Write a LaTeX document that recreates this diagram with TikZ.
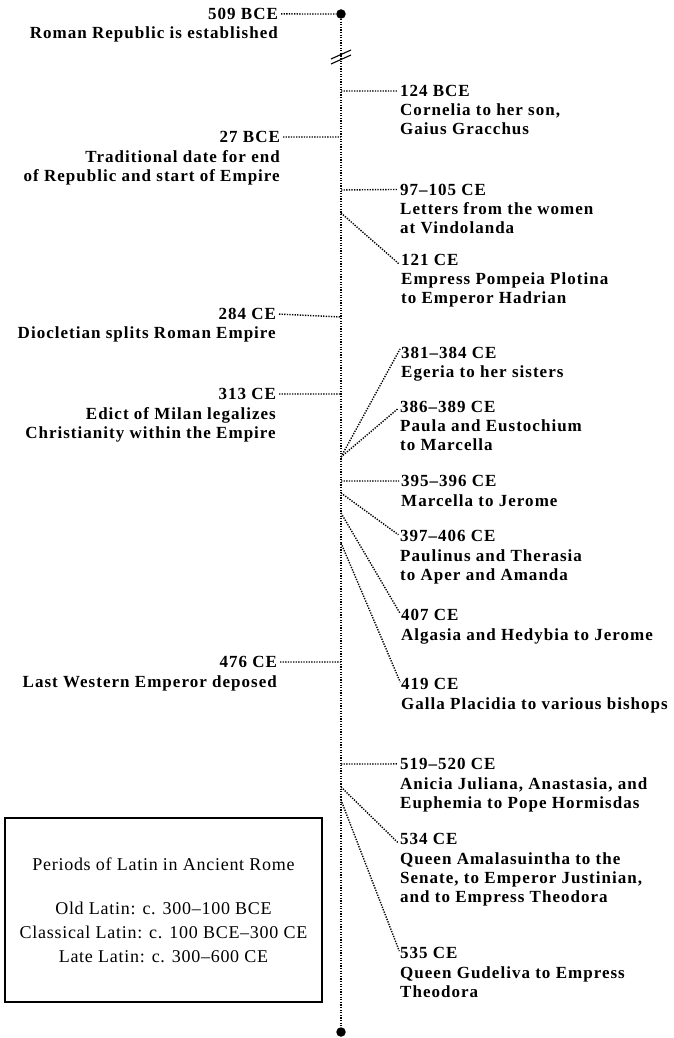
\documentclass[tikz,border=0pt]{standalone}
\usepackage{fontspec}
\setmainfont{Liberation Serif}[LetterSpace=6]
\newfontfamily\boxfont{Liberation Serif}[LetterSpace=4]
\usetikzlibrary{positioning}

\begin{document}
\begin{tikzpicture}[x=1pt, y=-1pt,
    datel/.style={inner sep=0pt, outer sep=0pt, anchor=base east, font=\fontsize{17}{19}\selectfont\bfseries},
    dater/.style={inner sep=0pt, outer sep=0pt, anchor=base west, font=\fontsize{17}{19}\selectfont\bfseries},
    descl/.style={inner sep=0pt, align=right, font=\fontsize{17}{19}\selectfont\bfseries},
    descr/.style={inner sep=0pt, align=left, font=\fontsize{17}{19}\selectfont\bfseries},
    linkline/.style={line width=1.4pt, dash pattern=on 1.3pt off 1.3pt},
    linkl/.style={linkline, shorten <=3pt},
    linkr/.style={linkline, shorten >=2pt},
    axisdot/.style={circle, fill=black, inner sep=0pt, minimum size=9.5pt}]
    \useasboundingbox (0,0) rectangle (673,1038);

    % the axis
    \node[axisdot] (top) at (341,14) {};
    \node[axisdot] (bottom) at (341,1032) {};
    \draw[linkline] (top) -- (bottom);
    \draw[line width=1.1pt] (331,59) -- (351,50) (331,64) -- (351,55);

    \coordinate (a124) at (341,91);
    \coordinate (a27) at (341,137);
    \coordinate (a97) at (341,190);
    \coordinate (a121) at (341,213);
    \coordinate (a284) at (341,317);
    \coordinate (a313) at (341,394);
    \coordinate (a381) at (341,457);
    \coordinate (a395) at (341,481);
    \coordinate (a397) at (341,493);
    \coordinate (a407) at (341,513);
    \coordinate (a419) at (341,543);
    \coordinate (a476) at (341,662);
    \coordinate (a519) at (341,764);
    \coordinate (a534) at (341,787);
    \coordinate (a535) at (341,800);

    % events on the left
    \node[datel] (d509) at (278,19.5) {509 BCE};
    \node[descl, below left=7.5pt and 0pt of d509.base east] (t509) {Roman Republic is established};
    \node[datel] (d27) at (280,142.5) {27 BCE};
    \node[descl, below left=7.5pt and 0pt of d27.base east] (t27) {Traditional date for end\\of Republic and start of Empire};
    \node[datel] (d284) at (276,319.5) {284 CE};
    \node[descl, below left=7.5pt and 0pt of d284.base east] (t284) {Diocletian splits Roman Empire};
    \node[datel] (d313) at (276,399.5) {313 CE};
    \node[descl, below left=7.5pt and 0pt of d313.base east] (t313) {Edict of Milan legalizes\\Christianity within the Empire};
    \node[datel] (d476) at (277,667.5) {476 CE};
    \node[descl, below left=7.5pt and 0pt of d476.base east] (t476) {Last Western Emperor deposed};

    \draw[linkl] (d509.east) -- (top);
    \draw[linkl] (d27.east) -- (a27);
    \draw[linkl] (d284.east) -- (a284);
    \draw[linkl] (d313.east) -- (a313);
    \draw[linkl] (d476.east) -- (a476);

    % letters on the right
    \node[dater] (d124) at (400,96.5) {124 BCE};
    \node[descr, below right=7.5pt and 0pt of d124.base west] (t124) {Cornelia to her son,\\Gaius Gracchus};
    \node[dater] (d97) at (400,195) {97--105 CE};
    \node[descr, below right=7.5pt and 0pt of d97.base west] (t97) {Letters from the women\\at Vindolanda};
    \node[dater] (d121) at (401,265.5) {121 CE};
    \node[descr, below right=7.5pt and 0pt of d121.base west] (t121) {Empress Pompeia Plotina\\to Emperor Hadrian};
    \node[dater] (d381) at (401,358.5) {381--384 CE};
    \node[descr, below right=7.5pt and 0pt of d381.base west] (t381) {Egeria to her sisters};
    \node[dater] (d386) at (400,412.5) {386--389 CE};
    \node[descr, below right=7.5pt and 0pt of d386.base west] (t386) {Paula and Eustochium\\to Marcella};
    \node[dater] (d395) at (401,486.5) {395--396 CE};
    \node[descr, below right=7.5pt and 0pt of d395.base west] (t395) {Marcella to Jerome};
    \node[dater] (d397) at (400,541.5) {397--406 CE};
    \node[descr, below right=7.5pt and 0pt of d397.base west] (t397) {Paulinus and Therasia\\to Aper and Amanda};
    \node[dater] (d407) at (401,620.5) {407 CE};
    \node[descr, below right=7.5pt and 0pt of d407.base west] (t407) {Algasia and Hedybia to Jerome};
    \node[dater] (d419) at (401,689.5) {419 CE};
    \node[descr, below right=7.5pt and 0pt of d419.base west] (t419) {Galla Placidia to various bishops};
    \node[dater] (d519) at (400,769.5) {519--520 CE};
    \node[descr, below right=7.5pt and 0pt of d519.base west] (t519) {Anicia Juliana, Anastasia, and\\Euphemia to Pope Hormisdas};
    \node[dater] (d534) at (400,844.5) {534 CE};
    \node[descr, below right=7.5pt and 0pt of d534.base west] (t534) {Queen Amalasuintha to the\\Senate, to Emperor Justinian,\\and to Empress Theodora};
    \node[dater] (d535) at (400,958.5) {535 CE};
    \node[descr, below right=7.5pt and 0pt of d535.base west] (t535) {Queen Gudeliva to Empress\\Theodora};

    \draw[linkr] (a124) -- (d124.west);
    \draw[linkr] (a97) -- (d97.west);
    \draw[linkr] (a121) -- (d121.south west);
    \draw[linkr] (a381) -- (d381.north west);
    \draw[linkr] (a381) -- (d386.west);
    \draw[linkr] (a395) -- (d395.west);
    \draw[linkr] (a397) -- (d397.west);
    \draw[linkr] (a407) -- (d407.west);
    \draw[linkr] (a419) -- (d419.west);
    \draw[linkr] (a519) -- (d519.west);
    \draw[linkr] (a534) -- (d534.south west);
    \draw[linkr] (a535) -- (d535.west);

    % the periods box
    \node[draw, line width=1.3pt, minimum width=317pt, minimum height=184pt, align=center,
        font=\boxfont\fontsize{18}{24}\selectfont] (periods) at (163.5,910)
        {Periods of Latin in Ancient Rome\\[20pt]
         Old Latin: c. 300–100 BCE\\
         Classical Latin: c. 100 BCE–300 CE\\
         Late Latin: c. 300–600 CE};
\end{tikzpicture}
\end{document}
